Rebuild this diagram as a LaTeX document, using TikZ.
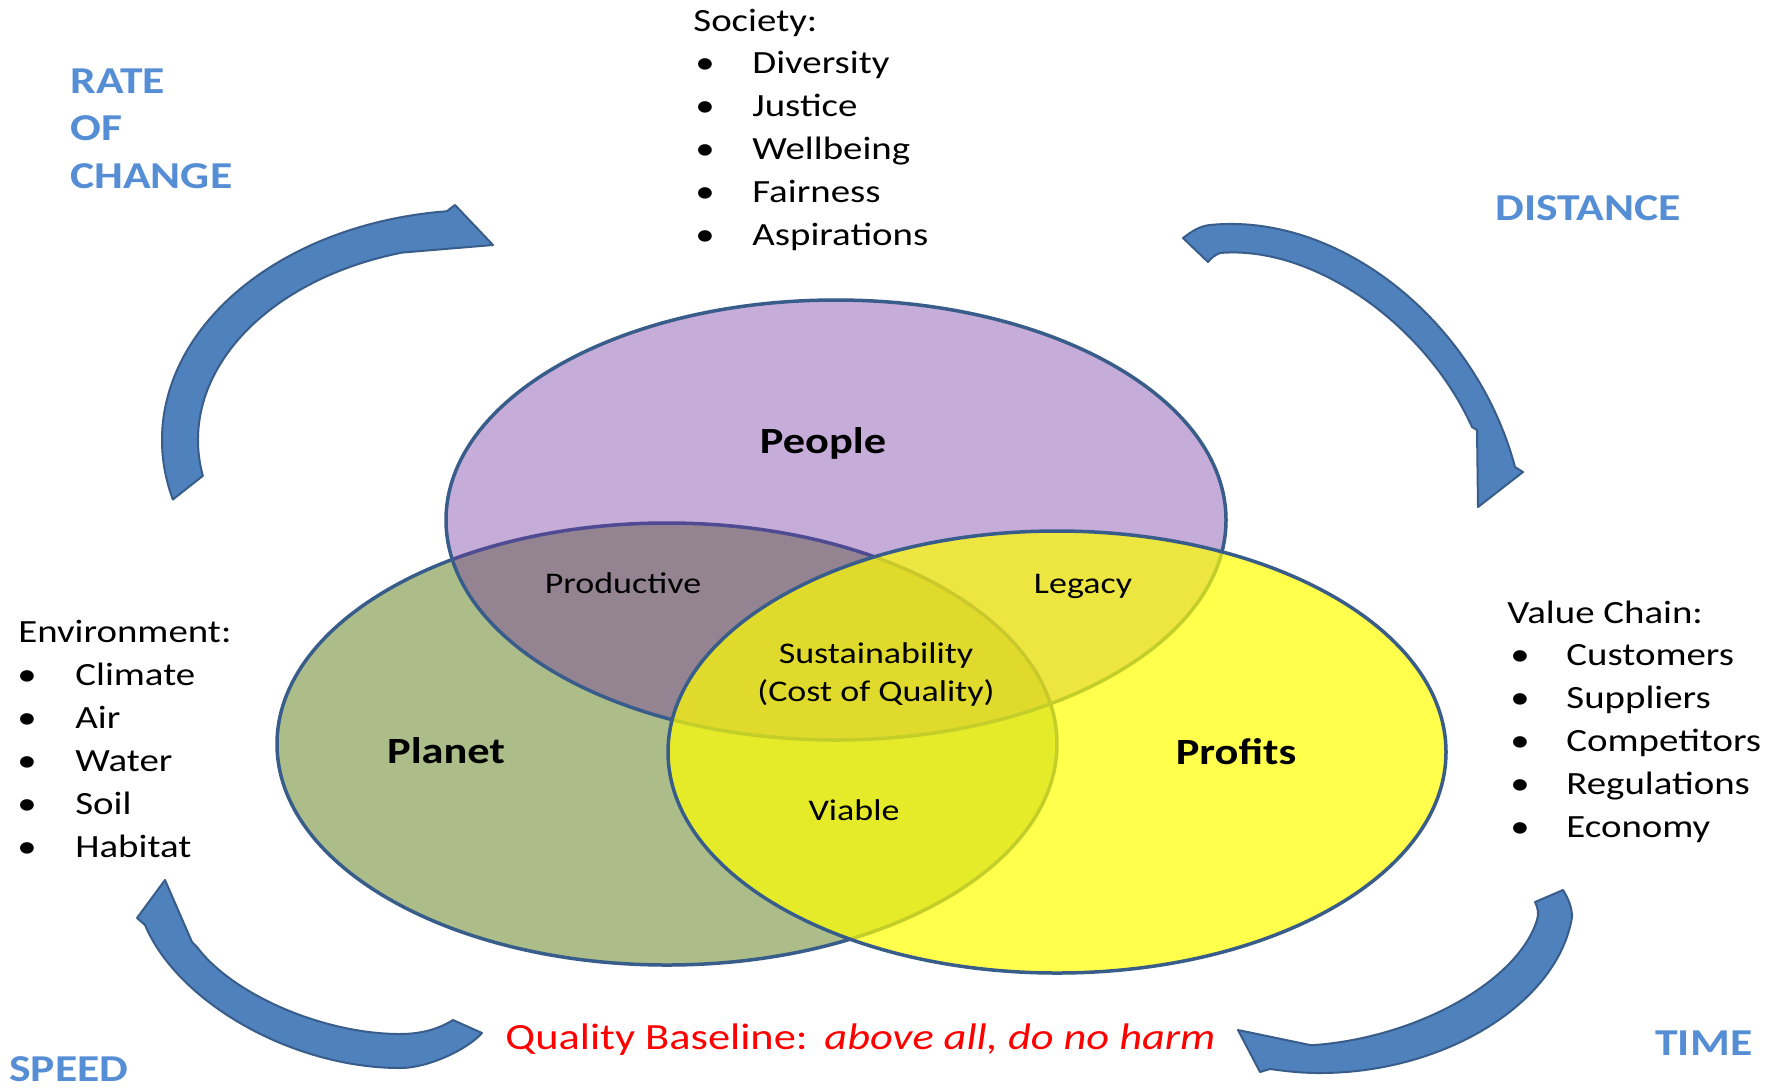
\documentclass[tikz,border=0pt]{standalone}
\usepackage{fontspec}
\usetikzlibrary{calc}
\setmainfont{Carlito}[FakeStretch=1.2]
\definecolor{planetc}{HTML}{76923C}
\definecolor{peoplec}{HTML}{7030A0}
\definecolor{profitc}{HTML}{FFFF00}
\definecolor{edgec}{HTML}{385D8A}
\definecolor{arrowc}{HTML}{4F81BD}
\definecolor{labelc}{HTML}{558ED5}
\begin{document}
\begin{tikzpicture}[x=0.5pt,y=-0.5pt,
  arr/.style={fill=arrowc,draw=edgec,line width=1pt,line join=round},
  venn/.style={draw=edgec,line width=1.75pt},
  lst/.style={font=\fontsize{16.2}{19}\selectfont,anchor=base west,inner sep=0pt,text=black},
  blab/.style={font=\bfseries\fontsize{19}{22}\selectfont,anchor=base west,inner sep=0pt,text=labelc},
  big/.style={font=\bfseries\fontsize{18.5}{22}\selectfont,anchor=base,inner sep=0pt},
  mid/.style={font=\fontsize{15}{18}\selectfont,anchor=base,inner sep=0pt},
  redt/.style={font=\fontsize{18.5}{22}\selectfont,anchor=base west,inner sep=0pt,text=red}]
\useasboundingbox (0,0) rectangle (1786,1087);
\fill[white] (0,0) rectangle (1786,1087);

% curved arrows
% top left (rate of change)
\draw[arr] ($(480,440)+(195:159pt and 115pt)$)
  arc[start angle=195, end angle=96, x radius=159pt, y radius=115pt]
  -- (455,205) -- (493,245)
  -- ($(480,440)+(106:141pt and 97.5pt)$)
  arc[start angle=106, end angle=190.6, x radius=141pt, y radius=97.5pt] -- cycle;
% top right (distance)
\draw[arr] (1183,238) .. controls (1192,231) and (1200,226) .. (1210,225)
  .. controls (1339,212) and (1476,321) .. (1515,467)
  -- (1523,472) -- (1478,507) -- (1477,430) -- (1472,427)
  .. controls (1425,323) and (1312,245) .. (1220,253)
  .. controls (1215,255) and (1211,258) .. (1208,262) -- cycle;
% bottom left (speed)
\draw[arr] (165,880) -- (192,942) -- (197,947)
  .. controls (233,995) and (324,1034) .. (400,1034)
  .. controls (425,1034) and (442,1027) .. (453,1020)
  -- (482,1033)
  .. controls (469,1048) and (430,1068) .. (400,1068)
  .. controls (293,1068) and (178,1003) .. (145,925)
  -- (137,918) -- cycle;
% bottom right (time)
\draw[arr] (1535,902) -- (1563,890)
  .. controls (1568,898) and (1572,907) .. (1572,917)
  .. controls (1558,1003) and (1445,1073) .. (1320,1073)
  .. controls (1300,1073) and (1285,1071) .. (1270,1069)
  -- (1260,1072) -- (1238,1030) -- (1310,1045) -- (1315,1045)
  .. controls (1418,1037) and (1518,981) .. (1537,920)
  .. controls (1539,914) and (1538,908) .. (1535,902) -- cycle;

% Venn ellipses
\draw[venn,fill=planetc,fill opacity=0.6] (667,744) ellipse [x radius=195pt, y radius=110.5pt];
\draw[venn,fill=peoplec,fill opacity=0.4] (836,520) ellipse [x radius=195pt, y radius=110pt];
\draw[venn,fill=profitc,fill opacity=0.7] (1057,752) ellipse [x radius=194.5pt, y radius=110.5pt];

% ellipse labels
\node[big] (people) at (823,453) {People};
\node[big] (planet) at (446,763) {Planet};
\node[big] (profits) at (1236,764) {Profits};
\node[mid] (productive) at (623,593) {Productive};
\node[mid] (legacy) at (1083,593) {Legacy};
\node[mid] (sust) at (876,663) {Sustainability};
\node[mid] (coq) at (876,701) {(Cost of Quality)};
\node[mid] (viable) at (854,820) {Viable};

% side labels
\node[blab] (rate) at (70,93) {RATE};
\node[blab] (of) at (70,140) {OF};
\node[blab] (change) at (70,188) {CHANGE};
\node[blab] (distance) at (1495,220) {DISTANCE};
\node[blab] (time) at (1655,1055) {TIME};
\node[blab] (speed) at (9,1081) {SPEED};

% lists
\node[lst] (soc) at (693,31) {Society:};
\foreach \t [count=\i] in {Diversity,Justice,Wellbeing,Fairness,Aspirations}{
  \node[lst] (socb\i) at (695,{31+42.8*\i}) {•};
  \node[lst] (soc\i) at (752,{31+42.8*\i}) {\t};
}
\node[lst] (env) at (18,642) {Environment:};
\foreach \t [count=\i] in {Climate,Air,Water,Soil,Habitat}{
  \node[lst] (envb\i) at (17,{642+43*\i}) {•};
  \node[lst] (env\i) at (75,{642+43*\i}) {\t};
}
\node[lst] (val) at (1507,623) {Value Chain:};
\foreach \t [count=\i] in {Customers,Suppliers,Competitors,Regulations,Economy}{
  \node[lst] (valb\i) at (1510,{623+42.8*\i}) {•};
  \node[lst] (val\i) at (1566,{623+42.8*\i}) {\t};
}

% baseline text
\node[redt] (qb) at (505,1049) {Quality Baseline:\hspace{0.45em}\textit{above all, do no harm}};
\end{tikzpicture}
\end{document}
